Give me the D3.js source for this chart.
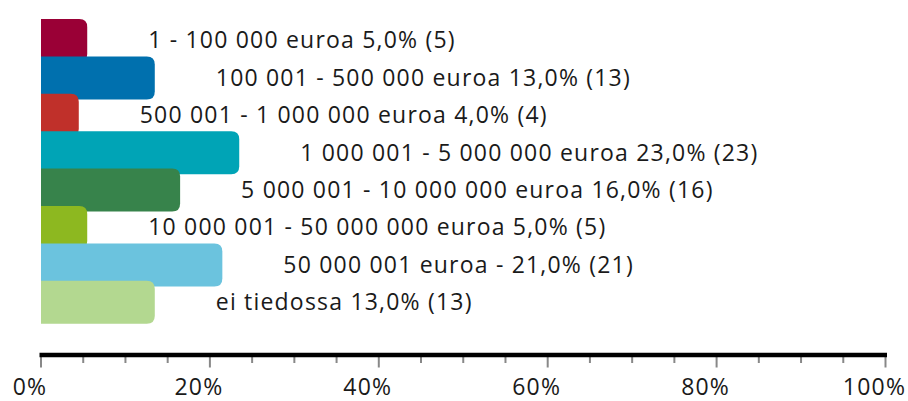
<!DOCTYPE html>
<html><head><meta charset="utf-8">
<script src="https://cdn.jsdelivr.net/npm/d3@7"></script>
<style>body{margin:0;background:#fff}svg{display:block}</style>
</head><body>
<script>
const categories = ["1 - 100 000 euroa","100 001 - 500 000 euroa","500 001 - 1 000 000 euroa","1 000 001 - 5 000 000 euroa","5 000 001 - 10 000 000 euroa","10 000 001 - 50 000 000 euroa","50 000 001 euroa -","ei tiedossa"];
const percents = [5.0,13.0,4.0,23.0,16.0,5.0,21.0,13.0];
const counts = [5,13,4,23,16,5,21,13];
const colors = ["#9a0036","#0070ae","#c0302a","#00a4b6","#37834b","#8db820","#6bc3de","#b3d890"];
const tickValues = [0,20,40,60,80,100];

const W=908,H=401;
const svg=d3.select("body").append("svg").attr("width",W).attr("height",H);
const x=d3.scaleLinear().domain([0,100]).range([41,885.5]);
const y=d3.scaleBand().domain(d3.range(categories.length)).range([19,19+37.4*8]).paddingInner(0);
const bh=43, r=8, extra=4;
const font="'Open Sans', sans-serif";

const g=svg.append("g");
percents.forEach((v,i)=>{
  const x0=x(0), x1=x(v)+extra, y0=y(i), y1=y(i)+bh;
  const p=`M${x0},${y0}H${x1-r}Q${x1},${y0} ${x1},${y0+r}V${y1-r}Q${x1},${y1} ${x1-r},${y1}H${x0}Z`;
  g.append("path").attr("d",p).attr("fill",colors[i]);
});
percents.forEach((v,i)=>{
  svg.append("text").attr("x",x(v)+extra+61).attr("y",y(i)+29.3)
    .attr("font-family",font).attr("font-size",23).attr("letter-spacing",1.2).attr("fill","#1a1a1a")
    .text(`${categories[i]} ${v.toFixed(1).replace(".",",")}% (${counts[i]})`);
});

// axis
const ay=355;
const ax=svg.append("g");
const minor=d3.range(0,101,5);
ax.selectAll("line.t").data(minor).join("line")
  .attr("x1",d=>x(d)).attr("x2",d=>x(d)).attr("y1",ay).attr("y2",d=>d%20===0?367.5:363)
  .attr("stroke","#888").attr("stroke-width",2);
ax.append("line").attr("x1",x(0)-1.5).attr("x2",x(100)+1.5).attr("y1",ay).attr("y2",ay)
  .attr("stroke","#000").attr("stroke-width",4.5);
ax.selectAll("text").data(tickValues).join("text")
  .attr("x",d=>x(d)-11).attr("y",394.5).attr("text-anchor","middle")
  .attr("font-family",font).attr("font-size",23).attr("letter-spacing",1.2).attr("fill","#1a1a1a").text(d=>d+"%");
</script>
</body></html>
